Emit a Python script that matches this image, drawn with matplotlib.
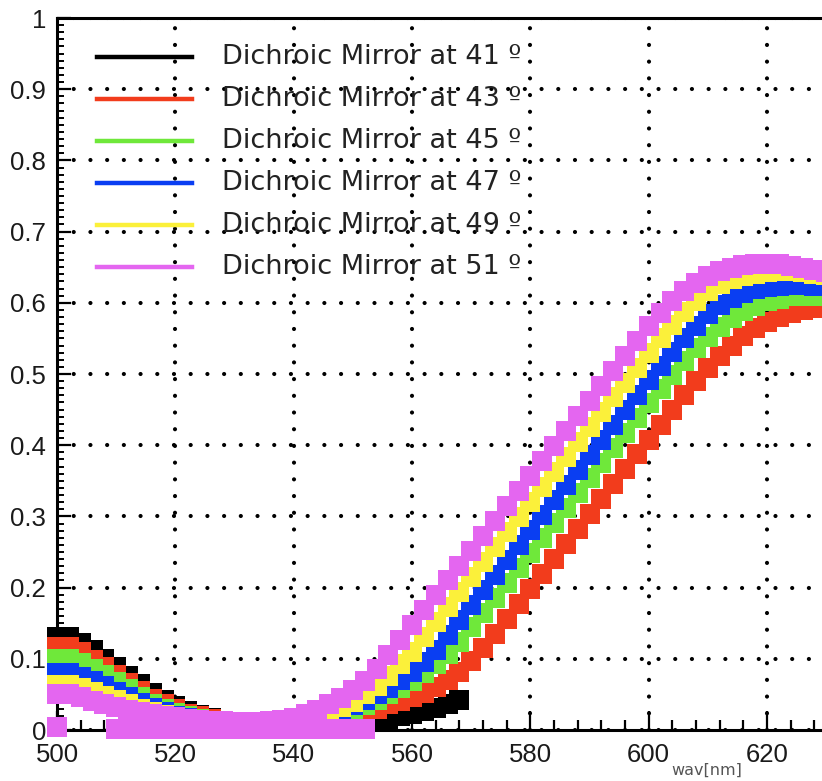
import numpy as np
import matplotlib
matplotlib.use("Agg")
import matplotlib.pyplot as plt
from matplotlib.lines import Line2D

plt.rcParams['lines.dash_capstyle'] = 'round'

# ---------------- data ----------------
wavelength = np.arange(500, 632, 2)          # 500..630 nm, 66 points
wavelength_41 = np.arange(500, 570, 2)       # 500..568 nm, 35 points

mirror_41 = [0.130, 0.130, 0.122, 0.112, 0.100, 0.088, 0.076, 0.064, 0.052, 0.042,
             0.034, 0.027, 0.021, 0.017, 0.013, 0.011, 0.009, 0.008, 0.007, 0.006,
             0.006, 0.006, 0.006, 0.007, 0.008, 0.009, 0.011, 0.013, 0.016, 0.019,
             0.023, 0.027, 0.031, 0.036, 0.042]

mirror_43 = [0.116, 0.116, 0.109, 0.099, 0.088, 0.077, 0.066, 0.055, 0.044, 0.036,
             0.029, 0.023, 0.019, 0.015, 0.012, 0.011, 0.010, 0.009, 0.009, 0.009,
             0.010, 0.011, 0.013, 0.015, 0.018, 0.021, 0.025, 0.030, 0.036, 0.041,
             0.046, 0.052, 0.060, 0.070, 0.082, 0.097, 0.115, 0.135, 0.156, 0.177,
             0.198, 0.219, 0.240, 0.261, 0.282, 0.303, 0.324, 0.345, 0.366, 0.387,
             0.408, 0.429, 0.450, 0.470, 0.490, 0.508, 0.525, 0.540, 0.553, 0.564,
             0.573, 0.580, 0.586, 0.590, 0.593, 0.595]

mirror_45 = [0.100, 0.100, 0.094, 0.086, 0.077, 0.067, 0.057, 0.047, 0.037, 0.030,
             0.024, 0.019, 0.016, 0.013, 0.011, 0.010, 0.010, 0.010, 0.010, 0.011,
             0.012, 0.014, 0.017, 0.020, 0.024, 0.029, 0.035, 0.042, 0.050, 0.059,
             0.069, 0.080, 0.092, 0.107, 0.124, 0.144, 0.165, 0.186, 0.207, 0.228,
             0.249, 0.270, 0.291, 0.312, 0.333, 0.354, 0.375, 0.396, 0.417, 0.438,
             0.459, 0.479, 0.499, 0.518, 0.536, 0.552, 0.566, 0.578, 0.588, 0.596,
             0.602, 0.606, 0.609, 0.610, 0.610, 0.609]

mirror_47 = [0.080, 0.080, 0.075, 0.069, 0.062, 0.054, 0.046, 0.038, 0.031, 0.025,
             0.020, 0.017, 0.014, 0.012, 0.011, 0.010, 0.010, 0.010, 0.011, 0.012,
             0.014, 0.017, 0.020, 0.024, 0.029, 0.035, 0.042, 0.050, 0.059, 0.070,
             0.082, 0.096, 0.113, 0.134, 0.155, 0.176, 0.197, 0.218, 0.239, 0.260,
             0.281, 0.302, 0.323, 0.344, 0.365, 0.386, 0.407, 0.428, 0.449, 0.470,
             0.491, 0.511, 0.531, 0.550, 0.568, 0.584, 0.597, 0.607, 0.614, 0.619,
             0.622, 0.624, 0.625, 0.625, 0.624, 0.623]

mirror_49 = [0.063, 0.063, 0.059, 0.054, 0.048, 0.042, 0.036, 0.030, 0.025, 0.021,
             0.018, 0.015, 0.013, 0.012, 0.011, 0.010, 0.010, 0.011, 0.012, 0.013,
             0.015, 0.018, 0.022, 0.027, 0.033, 0.040, 0.050, 0.062, 0.076, 0.092,
             0.110, 0.131, 0.152, 0.173, 0.194, 0.215, 0.236, 0.257, 0.278, 0.299,
             0.320, 0.341, 0.362, 0.383, 0.404, 0.425, 0.446, 0.467, 0.488, 0.509,
             0.530, 0.550, 0.569, 0.587, 0.603, 0.616, 0.626, 0.633, 0.638, 0.641,
             0.643, 0.644, 0.644, 0.643, 0.641, 0.639]

mirror_51 = [0.050, 0.050, 0.046, 0.041, 0.036, 0.032, 0.028, 0.025, 0.022, 0.020,
             0.018, 0.016, 0.014, 0.013, 0.012, 0.011, 0.011, 0.011, 0.012, 0.014,
             0.017, 0.022, 0.028, 0.036, 0.045, 0.056, 0.069, 0.085, 0.105, 0.126,
             0.147, 0.168, 0.189, 0.210, 0.231, 0.252, 0.273, 0.294, 0.315, 0.336,
             0.357, 0.378, 0.399, 0.420, 0.441, 0.462, 0.483, 0.504, 0.525, 0.546,
             0.567, 0.586, 0.603, 0.617, 0.628, 0.637, 0.644, 0.649, 0.653, 0.655,
             0.655, 0.654, 0.652, 0.649, 0.646, 0.643]

# extra low-lying points of the 51 deg measurement
wavelength_51_low = [500, 510, 512, 514, 516, 518, 520, 522, 524, 526, 528, 530,
                     532, 534, 536, 538, 540, 542, 544, 546, 548, 550, 552]
mirror_51_low = [0.004, 0.001, 0.001, 0.001, 0.001, 0.001, 0.001, 0.001, 0.001,
                 0.001, 0.001, 0.001, 0.001, 0.001, 0.001, 0.001, 0.001, 0.001,
                 0.001, 0.001, 0.001, 0.001, 0.001]

labels = ["Dichroic Mirror at 41 º", "Dichroic Mirror at 43 º",
          "Dichroic Mirror at 45 º", "Dichroic Mirror at 47 º",
          "Dichroic Mirror at 49 º", "Dichroic Mirror at 51 º"]
colors = ["#000000", "#f23c1c", "#6fe83a", "#0a3ef2", "#fbf03a", "#e466f0"]

x_ticks = [500, 520, 540, 560, 580, 600, 620]
y_ticks = [0, 0.1, 0.2, 0.3, 0.4, 0.5, 0.6, 0.7, 0.8, 0.9, 1]
y_ticklabels = ["0", "0.1", "0.2", "0.3", "0.4", "0.5", "0.6", "0.7", "0.8", "0.9", "1"]

# ---------------- figure ----------------
W, H = 822, 781
fig = plt.figure(figsize=(W / 100, H / 100), dpi=100)
fig.patch.set_facecolor("white")

x0_px, y0_px, ytop_px = 57, 730, 18
px_per_nm = 5.917
xmax = 632
right_px = x0_px + (xmax - 500) * px_per_nm
ax = fig.add_axes([x0_px / W, (H - y0_px) / H, (right_px - x0_px) / W, (y0_px - ytop_px) / H])
ax.set_xlim(500, xmax)
ax.set_ylim(0, 1)

series = [(wavelength_41, mirror_41), (wavelength, mirror_43), (wavelength, mirror_45),
          (wavelength, mirror_47), (wavelength, mirror_49), (wavelength, mirror_51)]
ms = 14.0
for (xs, ys), c in zip(series, colors):
    ax.plot(xs, ys, linestyle="none", marker="s", markersize=ms, color=c,
            markeredgewidth=0, clip_on=False, zorder=3)
ax.plot(wavelength_51_low, mirror_51_low, linestyle="none", marker="s", markersize=ms,
        color=colors[5], markeredgewidth=0, clip_on=False, zorder=3)

# grid
ax.set_xticks(x_ticks)
ax.set_yticks(y_ticks)
ax.set_yticklabels(y_ticklabels)
ax.set_xticks(np.arange(500, xmax + 1, 4), minor=True)
ax.set_yticks(np.arange(0, 1.0001, 0.01), minor=True)
ax.grid(True, which="major", color="black", linestyle=(0, (0.01, 4.0)), linewidth=3.0, zorder=1)
ax.set_axisbelow(True)

for s in ["left", "bottom", "top"]:
    ax.spines[s].set_linewidth(2.2)
ax.spines["right"].set_visible(False)

ax.tick_params(axis="x", which="major", direction="in", length=14, width=1.6, pad=9,
               labelcolor="#1a1a1a")
ax.tick_params(axis="x", which="minor", direction="in", length=7, width=1.6)
ax.tick_params(axis="y", which="major", direction="in", length=10, width=1.6, pad=8,
               labelcolor="#1a1a1a")
ax.tick_params(axis="y", which="minor", direction="in", length=5, width=1.4)
for lab in ax.get_xticklabels() + ax.get_yticklabels():
    lab.set_fontfamily(["Liberation Sans", "DejaVu Sans"])
    lab.set_fontsize(18.5)

# axis title
fig.text(742 / W, 1 - 770 / H, "wav[nm]", ha="right", va="center", fontsize=11.5,
         color="#555555", family="DejaVu Sans")

# legend (manual)
leg_y = [57, 99, 141, 183, 225, 267]
for yy, c, lab in zip(leg_y, colors, labels):
    fy = 1 - yy / H
    fig.add_artist(Line2D([97 / W, 192 / W], [fy, fy], color=c, linewidth=3.2,
                          transform=fig.transFigure))
    fig.text(222 / W, fy, lab, ha="left", va="center", fontsize=19.5,
             family="DejaVu Sans", color="#222222")

fig.savefig("out.png", dpi=100, facecolor="white")
